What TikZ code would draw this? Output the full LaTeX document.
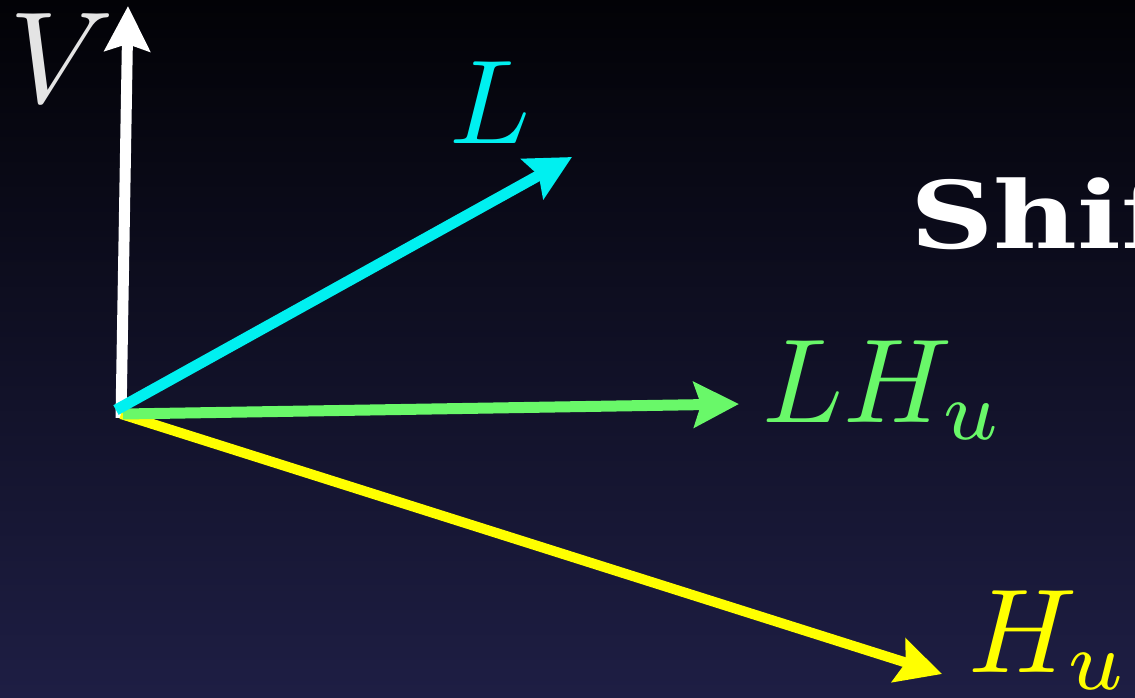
\documentclass[tikz,border=0pt]{standalone}
\usepackage{graphicx}
\usepackage{fontspec}
\newfontfamily\slabfont{DejaVu Serif}
\usetikzlibrary{arrows.meta}
\definecolor{bgtop}{RGB}{2,2,6}
\definecolor{bgmid}{RGB}{9,9,32}
\definecolor{bgbot}{RGB}{30,30,68}
\definecolor{vcol}{RGB}{255,255,255}
\definecolor{vlab}{RGB}{228,228,228}
\definecolor{lcol}{RGB}{0,240,240}
\definecolor{gcol}{RGB}{105,248,105}
\definecolor{ycol}{RGB}{255,255,0}
\tikzset{
  vec/.style={line width=0.22cm, -{Stealth[length=0.9cm,width=0.9cm,inset=0.14cm]}},
  biglab/.style={inner sep=0pt},
}
\begin{document}
\begin{tikzpicture}[x=0.02cm,y=-0.02cm]
\useasboundingbox (0,0) rectangle (1135,697);
\clip (0,0) rectangle (1135,697);
\shade[top color=bgtop, middle color=bgmid, bottom color=bgbot] (0,0) rectangle (1135,697);
% coordinates
\coordinate (ov) at (121,418);
\coordinate (tv) at (128,6);
\coordinate (ol) at (116,410);
\coordinate (tl) at (572,157);
\coordinate (og) at (123,414);
\coordinate (tg) at (739,404);
\coordinate (oy) at (121,414);
\coordinate (ty) at (942,674);
% vectors
\draw[vec, vcol] (ov) -- (tv);
\draw[vec, ycol, line width=0.2cm] (oy) -- (ty);
\draw[vec, gcol] (og) -- (tg);
\draw[vec, lcol] (ol) -- (tl);
% labels
\node[biglab, anchor=base, text=vlab] (vlabel) at (62,102) {\scalebox{7.4}{$V$}};
\node[biglab, anchor=base, text=lcol] (llabel) at (490,143) {\scalebox{6.8}{$L$}};
\node[biglab, anchor=base west, text=gcol] (lhlabel) at (762,422) {\scalebox{6.8}{$LH_u$}};
\node[biglab, anchor=base west, text=ycol] (hlabel) at (968,672) {\scalebox{6.8}{$H_u$}};
\node[inner sep=0pt, anchor=base west, text=white, font=\slabfont\bfseries\fontsize{53}{56}\selectfont] (shift) at (910,248) {\scalebox{1.24}[1]{Shift}};
\end{tikzpicture}
\end{document}
